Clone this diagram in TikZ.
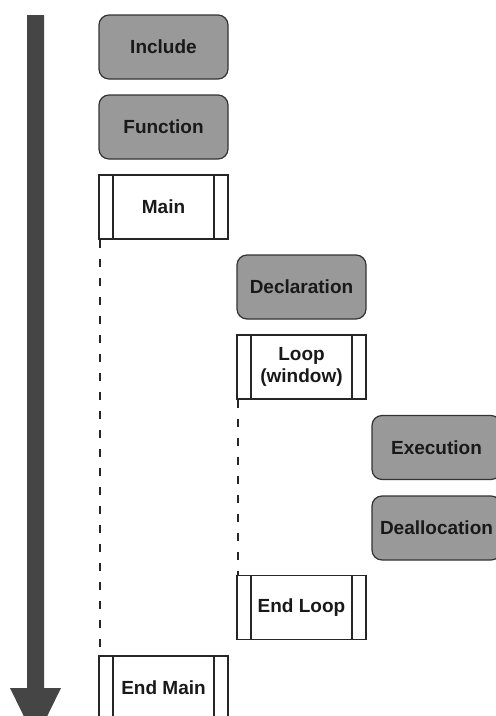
\documentclass[tikz,border=0pt]{standalone}
\usepackage{fontspec}
\setmainfont{Liberation Sans}
\begin{document}
\begin{tikzpicture}[x=1pt, y=-1pt,
  every node/.style={font=\bfseries\fontsize{19}{22.5}\selectfont, text=black!90, align=center},
  stepbox/.style={draw=black!80, line width=1.2pt, fill=black!40, rounded corners=10pt,
    minimum width=129pt, minimum height=64pt, inner sep=0pt},
  barbox/.style={draw=black!85, line width=1.2pt, fill=white,
    minimum width=129pt, minimum height=64pt, inner sep=0pt,
    path picture={
      \draw[black!85, line width=1.2pt]
        ([xshift=14pt]path picture bounding box.north west) -- ([xshift=14pt]path picture bounding box.south west)
        ([xshift=-14pt]path picture bounding box.north east) -- ([xshift=-14pt]path picture bounding box.south east);
    }},
  lifeline/.style={draw=black!85, line width=2.6pt, dash pattern=on 8.5pt off 10.5pt}
]
\useasboundingbox (0,0) rectangle (496,716);

% time axis
\fill[black!73] (27,15) -- (44,15) -- (44,688) -- (61,688) -- (35.5,740) -- (10,688) -- (27,688) -- cycle;

% program structure
\node[stepbox] (include) at (163.5,47) {Include};
\node[stepbox] (function) at (163.5,127) {Function};
\node[barbox] (main) at (163.5,207) {Main};
\node[stepbox] (decl) at (301.5,287) {Declaration};
\node[barbox] (loop) at (301.5,367) {Loop\\(window)};
\node[stepbox] (exec) at (436.5,447.5) {Execution};
\node[stepbox] (dealloc) at (436.5,528) {Deallocation};
\node[barbox] (endloop) at (301.5,607.5) {End Loop};
\node[barbox] (endmain) at (163.5,688) {End Main};

% scope lines
\draw[lifeline] ([xshift=1.5pt]main.south west) -- ([xshift=1.5pt]endmain.north west);
\draw[lifeline] ([xshift=1.5pt]loop.south west) -- ([xshift=1.5pt]endloop.north west);
\end{tikzpicture}
\end{document}
